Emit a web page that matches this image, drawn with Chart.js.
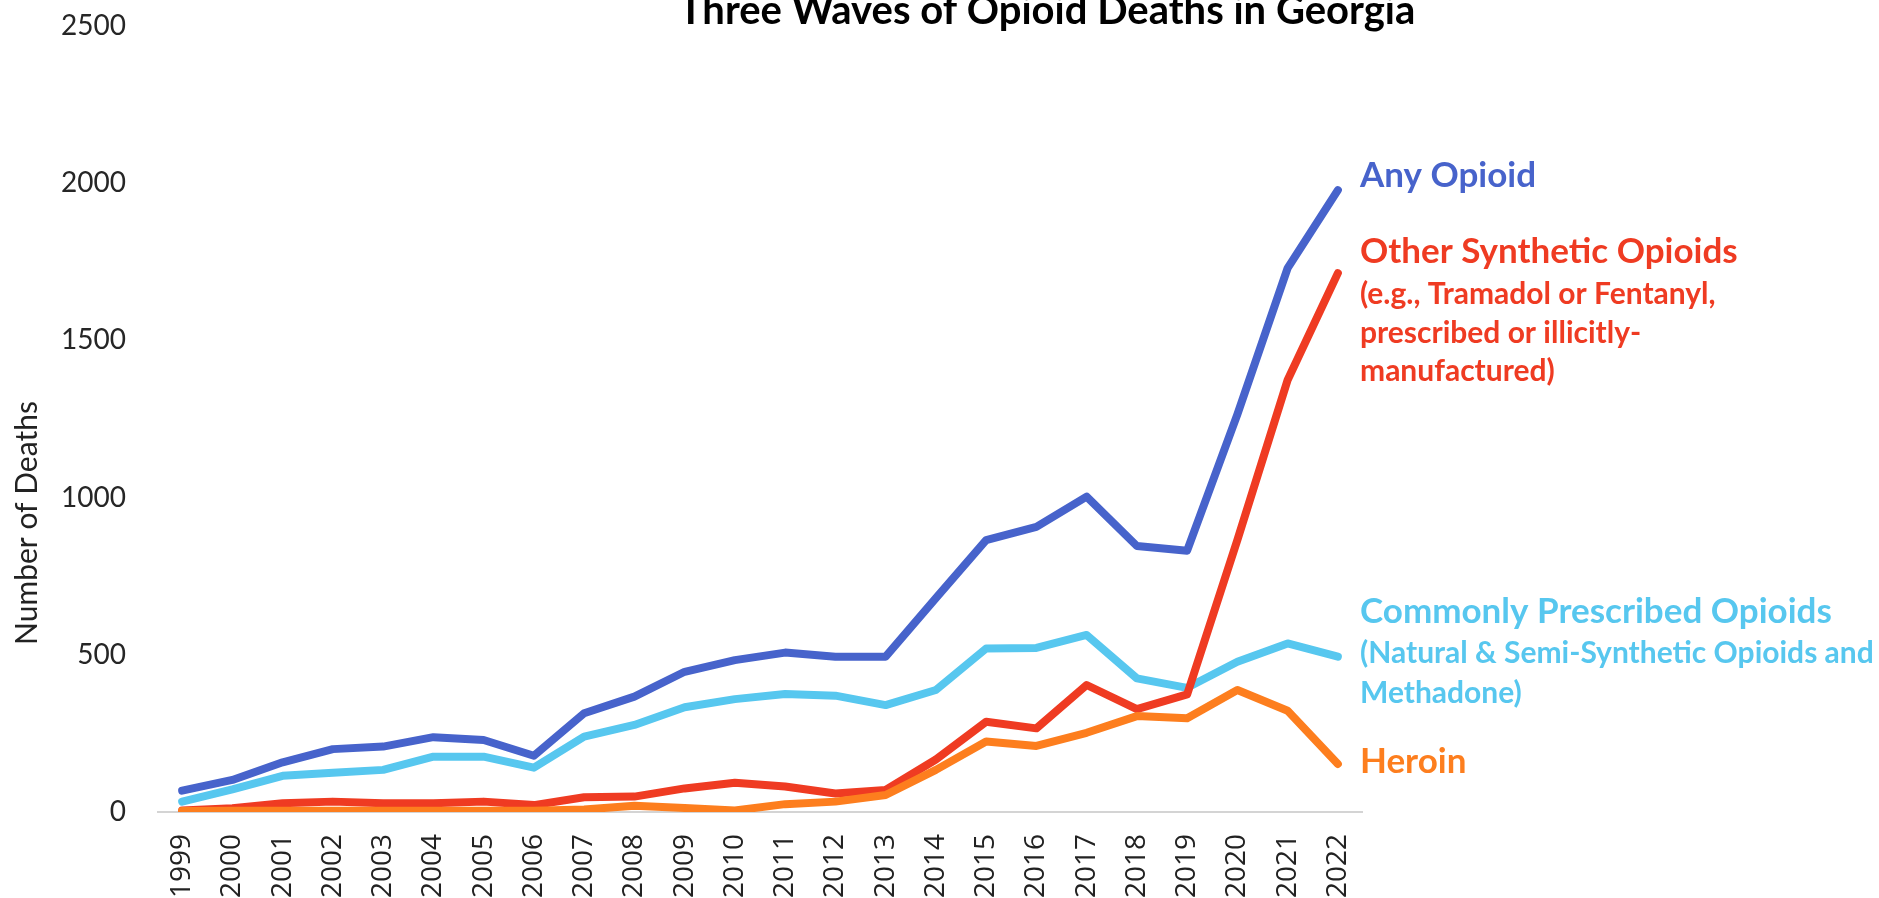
<!DOCTYPE html>
<html lang="en">
<head>
  <meta charset="UTF-8" />
  <title>Three Waves of Opioid Deaths in Georgia</title>
  <script src="https://cdn.jsdelivr.net/npm/chart.js"></script>
  <style>
    html, body { margin: 0; padding: 0; background: #fff; }
    #wrap { width: 1879px; height: 898px; position: relative; }
  </style>
</head>
<body>
  <div id="wrap"><canvas id="grafico"></canvas></div>

  <script>
    // data
    const years = ['1999', '2000', '2001', '2002', '2003', '2004', '2005', '2006', '2007', '2008', '2009', '2010',
                   '2011', '2012', '2013', '2014', '2015', '2016', '2017', '2018', '2019', '2020', '2021', '2022'];
    const anyOpioid  = [68, 102, 158, 200, 208, 238, 229, 179, 314, 367, 446, 483, 507, 494, 494, 680, 865, 907, 1003, 846, 831, 1265, 1730, 1978];
    const synthetic  = [5, 12, 28, 33, 28, 28, 33, 22, 47, 49, 75, 93, 81, 59, 70, 167, 287, 266, 404, 327, 374, 865, 1374, 1714];
    const prescribed = [33, 72, 115, 125, 134, 176, 176, 141, 240, 277, 333, 359, 375, 370, 340, 388, 520, 522, 563, 425, 395, 478, 536, 494];
    const heroin     = [3, 4, 4, 4, 4, 4, 4, 4, 8, 20, 13, 5, 25, 33, 54, 134, 224, 210, 252, 305, 298, 388, 322, 153];
    const yTicks = [0, 500, 1000, 1500, 2000, 2500];

    const azul = '#4763cb', rojo = '#ef3b22', celeste = '#57c7ef', naranja = '#fd7e1e';

    // labels to the right of the lines
    const notas = [
      { y: 176, text: 'Any Opioid', color: azul, big: true },
      { y: 252, text: 'Other Synthetic Opioids', color: rojo, big: true },
      { y: 294, text: '(e.g., Tramadol or Fentanyl,', color: rojo },
      { y: 333, text: 'prescribed or illicitly-', color: rojo },
      { y: 371, text: 'manufactured)', color: rojo },
      { y: 612, text: 'Commonly Prescribed Opioids', color: celeste, big: true },
      { y: 653, text: '(Natural & Semi-Synthetic Opioids and', color: celeste },
      { y: 693, text: 'Methadone)', color: celeste },
      { y: 762, text: 'Heroin', color: naranja, big: true }
    ];

    const textos = {
      id: 'textos',
      afterDraw(chart) {
        const c = chart.ctx;
        c.save();
        // title (cut at the top edge like the original)
        c.fillStyle = '#000';
        c.font = 'bold 40px Lato';
        c.textAlign = 'center';
        c.textBaseline = 'alphabetic';
        c.fillText('Three Waves of Opioid Deaths in Georgia', 1047, 24);

        // y axis title
        c.save();
        c.translate(27, 523);
        c.rotate(-Math.PI / 2);
        c.font = '30px Lato';
        c.fillStyle = '#222';
        c.textAlign = 'center';
        c.textBaseline = 'middle';
        c.fillText('Number of Deaths', 0, 0);
        c.restore();

        // series notes
        c.textAlign = 'left';
        c.textBaseline = 'middle';
        notas.forEach(n => {
          c.font = n.big ? 'bold 35px Lato' : 'bold 30px Lato';
          c.fillStyle = n.color;
          c.fillText(n.text, chart.chartArea.right - 3, n.y);
        });
        c.restore();
      }
    };

    const serie = (label, data, color, order) => ({
      label, data, order,
      borderColor: color,
      backgroundColor: color,
      borderWidth: 8,
      pointRadius: 0,
      tension: 0,
      borderCapStyle: 'round',
      borderJoinStyle: 'round'
    });

    new Chart(document.getElementById('grafico'), {
      type: 'line',
      data: {
        labels: years,
        datasets: [
          serie('Heroin', heroin, naranja, 0),
          serie('Other Synthetic Opioids', synthetic, rojo, 1),
          serie('Any Opioid', anyOpioid, azul, 2),
          serie('Commonly Prescribed Opioids', prescribed, celeste, 3)
        ]
      },
      options: {
        responsive: true,
        maintainAspectRatio: false,
        animation: false,
        layout: { padding: { top: 26, right: 516, left: 0, bottom: 0 } },
        plugins: { legend: { display: false }, tooltip: { enabled: false } },
        scales: {
          x: {
            offset: true,
            grid: { display: false, drawTicks: false },
            border: { display: false },
            afterFit: s => { s.height = 86; s.paddingTop = 0; },
            ticks: {
              autoSkip: false, minRotation: 90, maxRotation: 90, padding: 22,
              color: '#222', font: { family: 'Open Sans', size: 28 }
            }
          },
          y: {
            min: 0, max: 2500,
            afterFit: s => { s.width = 157; s.paddingTop = 0; s.paddingBottom = 0; },
            afterBuildTicks: s => { s.ticks = yTicks.map(v => ({ value: v })); },
            grid: {
              drawTicks: false,
              lineWidth: 2,
              color: ctx => ctx.tick && ctx.tick.value === 0 ? '#d4d4d4' : 'rgba(0,0,0,0)'
            },
            border: { display: false },
            ticks: {
              padding: 31, color: '#262626', font: { family: 'Lato', size: 28 },
              callback: v => String(v)
            }
          }
        }
      },
      plugins: [textos]
    });
  </script>
</body>
</html>
